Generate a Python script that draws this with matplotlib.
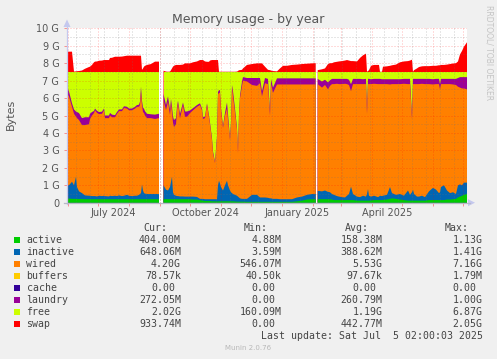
import numpy as np
import matplotlib
matplotlib.use("Agg")
import matplotlib.pyplot as plt
from matplotlib.patches import Rectangle, Polygon
from matplotlib.lines import Line2D
import matplotlib.transforms as mtrans
import datetime as dt

# ---------------- data (GiB), day offsets from START ----------------
START = dt.date(2024, 5, 31)
N = float("nan")

DAYS = [0, 2, 5, 7, 9, 10, 12, 15, 18, 22, 23, 25, 27, 28, 30, 32, 35, 37, 38, 42,
        43, 45, 48, 50, 52, 55, 57, 60, 62, 65, 68, 70, 72, 73, 74, 75, 76, 77, 78, 80,
        84, 88, 92,
        94.5,
        96.5, 99, 101, 103, 104, 105, 106, 107, 109, 110, 111, 113, 116, 118, 120, 123, 126, 130, 133, 135,
        136, 138, 140, 142, 143, 145, 146, 148, 150, 151, 152, 153, 154, 156, 158, 160, 161, 163, 164, 165,
        166, 168, 170, 171, 172, 173, 175, 176, 180, 185, 190, 193, 195, 198, 201, 203, 204, 206, 210, 213,
        216, 220, 225, 230, 235, 240, 245, 248.7,
        249.7,
        250.7, 255, 258, 261, 263, 265, 267, 270, 272, 275, 278, 280, 282, 284, 286, 290, 293, 296, 299, 300,
        301, 302, 304, 307, 311, 312, 313, 315, 316, 320, 323, 325, 329, 333, 337, 341, 343, 345, 346, 347,
        350, 352, 355, 358, 362, 366, 369, 372, 373, 374, 377, 380, 383, 386, 389, 391, 393, 395, 397, 400]

ACTIVE = [.24, .24, .22, .22, .22, .22, .21, .21, .20, .20, .20, .20, .20, .20, .20, .20, .20, .20, .20, .20,
          .20, .20, .20, .20, .20, .20, .20, .20, .20, .20, .20, .20, .20, .20, .20, .20, .20, .20, .20, .20,
          .20, .20, .20,
          N,
          .20, .20, .20, .20, .20, .20, .20, .20, .20, .20, .20, .20, .20, .20, .20, .20, .18, .18, .15, .12,
          .12, .10, .10, .10, .10, .08, .08, .08, .07, .08, .08, .08, .08, .08, .08, .08, .08, .08, .08, .08,
          .08, .07, .06, .06, .06, .06, .06, .06, .05, .05, .05, .05, .05, .05, .05, .05, .05, .05, .05, .05,
          .05, .05, .05, .08, .12, .18, .20, .20,
          N,
          .20, .20, .20, .20, .20, .18, .15, .15, .15, .15, .15, .15, .15, .15, .15, .12, .12, .12, .12, .12,
          .12, .12, .13, .15, .15, .15, .15, .15, .16, .18, .22, .25, .22, .18, .15, .12, .12, .12, .12, .12,
          .12, .12, .12, .12, .15, .15, .15, .15, .15, .15, .15, .18, .18, .20, .22, .30, .35, .40, .45, .50]

INACTIVE = [.76, .76, .98, .78, 1.27, .68, .44, .34, .22, .20, .20, .18, .18, .18, .16, .20, .18, .20, .18, .16,
            .20, .18, .20, .18, .22, .18, .20, .25, .20, .18, .20, .20, .25, .30, .35, .85, .50, .35, .32, .30,
            .30, .30, .30,
            N,
            .80, .55, .50, .70, 1.00, 1.29, .40, .25, .20, .18, .18, .16, .16, .15, .15, .15, .17, .15, .07, .10,
            .10, .10, .10, .10, .10, .12, .12, .12, .13, .92, 1.18, 1.02, .82, .62, .92, 1.18, .92, .62, .52, .47,
            .42, .38, .34, .29, .24, .19, .16, .16, .17, .40, .40, .25, .25, .25, .23, .20, .20, .17, .17, .15,
            .15, .15, .15, .22, .23, .27, .30, .30,
            N,
            .48, .45, .50, .42, .40, .32, .30, .23, .20, .17, .15, .25, .35, .77, .35, .23, .20, .28, .23, .38,
            .66, .28, .22, .25, .17, .20, .25, .23, .24, .27, .68, .30, .23, .32, .25, .58, .33, .48, .63, .38,
            .23, .23, .28, .20, .50, .70, .60, .40, .45, .75, .85, .52, .37, .40, .28, .70, .70, .60, .70, .65]

WIRED = [5.30, 5.08, 4.30, 4.10, 3.44, 3.95, 4.09, 3.90, 4.03, 4.10, 4.40, 4.62, 4.76, 4.92, 4.79, 4.68, 4.72, 4.90, 4.47, 4.49,
         4.60, 4.52, 4.50, 4.72, 4.83, 4.87, 5.03, 4.95, 4.90, 4.92, 5.00, 5.10, 5.05, 5.10, 5.75, 4.55, 4.50, 4.59, 4.48, 4.35,
         4.35, 4.30, 4.35,
         N,
         4.89, 4.56, 5.10, 4.13, 4.50, 3.71, 4.00, 3.89, 4.10, 4.92, 5.32, 4.48, 5.24, 4.58, 4.58, 4.79, 4.95, 5.17, 5.38, 5.08,
         4.58, 4.65, 5.40, 4.70, 4.30, 3.40, 2.65, 2.08, 3.50, 5.20, 5.04, 5.20, 4.40, 3.60, 4.00, 4.14, 3.80, 2.90, 3.90, 6.05,
         5.60, 4.75, 3.80, 2.50, 4.70, 5.75, 6.48, 6.78, 6.73, 6.30, 6.25, 6.55, 5.80, 6.55, 6.52, 4.75, 6.55, 6.08, 6.56, 6.58,
         6.58, 6.58, 6.58, 6.48, 6.43, 6.33, 6.28, 6.28,
         N,
         6.12, 5.95, 6.05, 5.88, 6.10, 6.30, 6.35, 6.44, 6.45, 6.48, 6.52, 6.40, 6.25, 5.48, 6.30, 6.45, 6.48, 6.40, 6.45, 4.60,
         6.02, 6.40, 6.45, 6.42, 6.48, 6.45, 6.40, 6.42, 6.40, 6.35, 5.88, 6.25, 6.35, 6.30, 6.42, 6.10, 6.35, 4.20, 6.05, 6.30,
         6.45, 6.45, 6.42, 6.48, 6.15, 5.93, 6.05, 6.25, 5.90, 5.90, 5.80, 6.10, 6.25, 6.18, 6.25, 5.65, 5.55, 5.55, 5.40, 5.35]

LAUNDRY = [.35, .30, .20, .25, .30, .35, .40, .40, .45, .40, .30, .20, .12, .10, .12, .12, .12, .10, .15, .15,
           .15, .15, .12, .10, .10, .10, .10, .10, .10, .10, .10, .10, .12, .20, .35, .25, .25, .25, .25, .25,
           .22, .25, .25,
           N,
           .35, .30, .30, .30, .25, .30, .35, .40, .35, .20, .15, .25, .15, .30, .30, .15, .12, .10, .10, .10,
           .10, .10, .10, .10, .10, .10, .10, .05, .10, .15, .15, .15, .15, .10, .15, .35, .30, .10, .15, .15,
           .30, .20, .10, .10, .10, .15, .25, .20, .20, .40, .45, .30, .30, .30, .30, .25, .30, .30, .35, .35,
           .35, .35, .35, .35, .35, .35, .35, .35,
           N,
           .30, .35, .30, .40, .32, .30, .30, .28, .30, .30, .28, .30, .30, .40, .30, .30, .30, .28, .30, .25,
           .30, .30, .28, .28, .30, .30, .30, .28, .28, .28, .30, .28, .28, .28, .28, .30, .30, .20, .30, .30,
           .30, .30, .28, .30, .30, .30, .30, .30, .30, .30, .30, .30, .30, .32, .35, .50, .60, .65, .65, .70]

FREE = [.86, 1.13, 1.81, 2.16, 2.28, 2.31, 2.37, 2.66, 2.61, 2.61, 2.41, 2.31, 2.25, 2.11, 2.24, 2.31, 2.29, 2.11, 2.51, 2.51,
        2.36, 2.46, 2.49, 2.31, 2.16, 2.16, 1.98, 2.01, 2.11, 2.11, 2.01, 1.91, 1.89, 1.71, .86, 1.66, 2.06, 2.12, 2.26, 2.41,
        2.44, 2.46, 2.41,
        N,
        1.27, 1.90, 1.41, 2.18, 1.56, 2.01, 2.56, 2.77, 2.66, 2.01, 1.66, 2.42, 1.76, 2.28, 2.28, 2.22, 2.09, 1.91, 1.81, 2.11,
        2.61, 2.56, 1.81, 2.51, 2.91, 3.81, 4.56, 5.18, 3.71, 1.16, 1.06, 1.06, 2.06, 3.11, 2.36, 1.76, 2.41, 3.81, 2.86, .76,
        1.11, 2.11, 3.21, 4.56, 2.41, 1.36, .56, .31, .36, .36, .36, .36, 1.11, .36, .41, 2.26, .41, .91, .38, .38,
        .38, .38, .38, .38, .38, .38, .38, .38,
        N,
        .41, .56, .46, .61, .49, .41, .41, .41, .41, .41, .41, .41, .46, .71, .41, .41, .41, .43, .41, 2.16,
        .41, .41, .43, .41, .41, .41, .41, .43, .43, .43, .43, .43, .43, .43, .41, .41, .41, 2.51, .41, .41,
        .41, .41, .41, .41, .41, .43, .41, .41, .71, .41, .41, .41, .41, .41, .41, .36, .31, .31, .31, .31]

SWAP = [1.15, 1.15, 1.15, .01, .02, .03, .04, .07, .17, .27, .29, .39, .54, .58, .59, .63, .64, .67, .67, .67,
        .79, .80, .86, .86, .86, .87, .89, .92, .92, .92, .92, .92, .92, .92, .92, .11, .19, .29, .34, .39,
        .44, .58, .58,
        N,
        .06, .01, 0, .01, .09, .19, .29, .34, .39, .39, .39, .39, .41, .48, .48, .48, .54, .59, .67, .67,
        .67, .59, .57, .57, .64, .67, .67, .67, .67, .67, 0, 0, 0, 0, 0, 0, 0, 0, 0, 0,
        0, 0, .01, .04, .09, .09, .11, .19, .39, .44, .48, .48, .48, .29, .11, .09, .07, .04, .02, .19,
        .34, .34, .39, .41, .44, .46, .48, .49,
        N,
        .09, .14, .19, .44, .49, .49, .54, .57, .59, .61, .64, .67, .64, .61, .61, .59, .79, .94, 1.04, 0,
        .04, .09, .34, .39, .39, .39, 0, 0, .29, .31, .34, .37, .41, .54, .59, .61, .64, .69, 0, .09,
        .19, .27, .31, .32, .32, .34, .34, .37, .37, .39, .39, .41, .44, .47, .49, .59, .99, 1.19, 1.44, 1.69]

SERIES = ["active", "inactive", "wired", "buffers", "cache", "laundry", "free", "swap"]
COLORS = ["#00CC00", "#0066B3", "#FF8000", "#FFCC00", "#330099", "#990099", "#CCFF00", "#FF0000"]
CUR = ["404.00M", "648.06M", "4.20G", "78.57k", "0.00", "272.05M", "2.02G", "933.74M"]
MIN = ["4.88M", "3.59M", "546.07M", "40.50k", "0.00", "0.00", "160.09M", "0.00"]
AVG = ["158.38M", "388.62M", "5.53G", "97.67k", "0.00", "260.79M", "1.19G", "442.77M"]
MAX = ["1.13G", "1.41G", "7.16G", "1.79M", "0.00", "1.00G", "6.87G", "2.05G"]

YTICKS = list(range(0, 11))
YLABELS = ["0"] + [f"{v} G" for v in range(1, 11)]
XLABELS = ["July 2024", "October 2024", "January 2025", "April 2025"]
XLABEL_DATES = [dt.date(2024, 7, 16), dt.date(2024, 10, 16), dt.date(2025, 1, 16), dt.date(2025, 4, 16)]

# ---------------- figure ----------------
W, H = 497, 359
fig = plt.figure(figsize=(W / 100, H / 100), dpi=100, facecolor="#f0f0f0")


def fx(px):
    return px / W


def fy(py):
    return 1 - py / H


X0, X1, Y0, Y1 = 67, 467, 202.7, 28.3
ax = fig.add_axes([fx(X0), fy(Y0), (X1 - X0) / W, (Y0 - Y1) / H])
ax.set_facecolor("white")
ax.set_xlim(0, 400)
ax.set_ylim(0, 10)

x = np.array(DAYS, dtype=float)
layers = [np.array(a, dtype=float) for a in (ACTIVE, INACTIVE, WIRED, LAUNDRY, FREE, SWAP)]
lcolors = [COLORS[0], COLORS[1], COLORS[2], COLORS[5], COLORS[6], COLORS[7]]
cum = np.cumsum(np.vstack(layers), axis=0)
for k in range(len(layers) - 1, -1, -1):
    ax.fill_between(x, 0, cum[k], color=lcolors[k], linewidth=0, zorder=1)

# grid
def dnum(d):
    return (d - START).days

major_x = []
d = dt.date(2024, 6, 1)
while d <= dt.date(2025, 7, 5):
    major_x.append(dnum(d))
    d = dt.date(d.year + (d.month == 12), d.month % 12 + 1, 1)
minor_x = []
d = dt.date(2025, 1, 5)
while dnum(d) > 0:
    d -= dt.timedelta(days=14)
d += dt.timedelta(days=14)
while dnum(d) < 400:
    minor_x.append(dnum(d))
    d += dt.timedelta(days=14)

dots = (0, (1, 2))
mcol = (1.0, 0.0, 0.0, 0.28)
gcol = (0.45, 0.45, 0.45, 0.35)
for v in minor_x:
    ax.axvline(v, color=gcol, lw=0.72, ls=dots, zorder=3)
for v in np.arange(0.5, 10, 1.0):
    ax.axhline(v, color=gcol, lw=0.72, ls=dots, zorder=3)
for v in major_x:
    ax.axvline(v, color=mcol, lw=0.72, ls=dots, zorder=3)
for v in YTICKS[1:]:
    ax.axhline(v, color=mcol, lw=0.72, ls=dots, zorder=3)

ax.set_yticks(YTICKS)
ax.set_yticklabels(YLABELS)
ax.set_xticks(major_x)
ax.set_xticklabels([])
ax.tick_params(axis="y", length=2.5, width=0.7, color=(1, 0, 0, 0.4), pad=3,
               labelsize=7, labelcolor="#555555")
ax.tick_params(axis="x", length=2.5, width=0.7, color=(1, 0, 0, 0.4), pad=2)
for s in ax.spines.values():
    s.set_visible(False)

# x labels (centered mid-month)
bt = mtrans.blended_transform_factory(ax.transData, fig.transFigure)
for lab, dd in zip(XLABELS, XLABEL_DATES):
    ax.text(dnum(dd), fy(212.5), lab, transform=bt, ha="center", va="center",
            fontsize=7, color="#555555", clip_on=False)

# axes lines and arrows
acol = "#c4c8ee"
fig.add_artist(Line2D([fx(X0), fx(X0)], [fy(Y0 + 1), fy(24)], color=acol, lw=0.9))
fig.add_artist(Line2D([fx(X0 - 3), fx(470)], [fy(Y0), fy(Y0)], color="#b8b8c8", lw=0.9))
fig.add_artist(Polygon([[fx(X0 - 3.5), fy(27)], [fx(X0 + 3.5), fy(27)], [fx(X0), fy(19.5)]],
                       closed=True, color=acol, lw=0))
fig.add_artist(Polygon([[fx(468), fy(Y0 - 3.5)], [fx(468), fy(Y0 + 3.5)], [fx(475), fy(Y0)]],
                       closed=True, color=acol, lw=0))

# titles
fig.text(fx(248), fy(19), "Memory usage - by year", ha="center", va="center",
         fontsize=9, color="#555555")
fig.text(fx(10.5), fy(114), "Bytes", ha="center", va="center", rotation=90,
         fontsize=8, color="#555555")
fig.text(fx(488.5), fy(53), "RRDTOOL/ TOBI OETIKER", ha="center", va="center", rotation=270,
         fontsize=5.5, color="#c4c4c4")

# legend
mono = "DejaVu Sans Mono"
lfs = 7.1
tcol = "#444444"
cw = 5.95
hdr_y = 227.7
for h, xr in zip(["Cur:", "Min:", "Avg:", "Max:"], [167, 268, 368.5, 469]):
    fig.text(fx(xr), fy(hdr_y), h, ha="right", va="center", family=mono, fontsize=lfs, color=tcol)
col_right = [181, 281.7, 382.3, 482.7]
for i, name in enumerate(SERIES):
    yc = 239.7 + 12 * i
    fig.add_artist(Rectangle((fx(14), fy(yc + 2.8)), 5.6 / W, 5.6 / H, color=COLORS[i], lw=0))
    fig.text(fx(26.5), fy(yc), name, ha="left", va="center", family=mono, fontsize=lfs, color=tcol)
    for vals, xr in zip([CUR, MIN, AVG, MAX], col_right):
        s = vals[i]
        off = cw if s[-1].isdigit() else 0
        fig.text(fx(xr - off), fy(yc), s, ha="right", va="center", family=mono, fontsize=lfs, color=tcol)

fig.text(fx(482.7), fy(335.7), "Last update: Sat Jul  5 02:00:03 2025", ha="right", va="center",
         family=mono, fontsize=lfs, color=tcol)
fig.text(fx(248), fy(348.3), "Munin 2.0.76", ha="center", va="center", fontsize=5, color="#b8b8b8")

fig.savefig("out.png", dpi=100, facecolor=fig.get_facecolor())
